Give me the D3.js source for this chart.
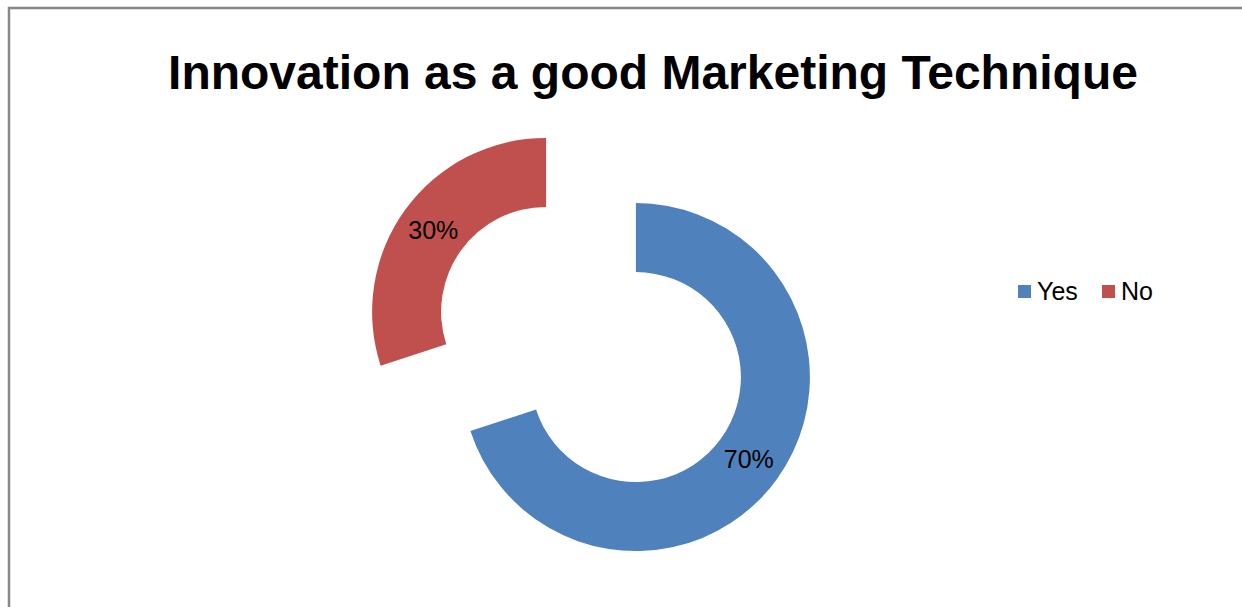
<!DOCTYPE html>
<html>
<head>
<meta charset="utf-8">
<script src="https://cdn.jsdelivr.net/npm/d3@7"></script>
<style>
  html, body { margin: 0; padding: 0; background: #fff; }
  svg { display: block; }
  text { font-family: "Liberation Sans", Arial, sans-serif; }
</style>
</head>
<body>
<svg id="chart" width="1242" height="607"></svg>
<script>
// Survey answers
const categories = ["Yes", "No"];
const values = [70, 30];
const labels = ["70%", "30%"];
const colors = ["#4F81BD", "#C0504D"];
const title = "Innovation as a good Marketing Technique";

const svg = d3.select("#chart");

// chart area frame (continues past the right and bottom edges)
svg.append("rect")
  .attr("x", 9).attr("y", 8)
  .attr("width", 1300).attr("height", 700)
  .attr("fill", "#fff")
  .attr("stroke", "#878787")
  .attr("stroke-width", 2.5);

svg.append("text")
  .attr("x", 653).attr("y", 89)
  .attr("text-anchor", "middle")
  .attr("font-size", 48)
  .attr("font-weight", "bold")
  .attr("fill", "#000")
  .text(title);

// exploded doughnut
const cx = 591, cy = 344.5;
const outerR = 174, innerR = 105, explode = 55.5;

const pie = d3.pie().sort(null).value(d => d.value);
const arcs = pie(categories.map((c, i) => ({ name: c, value: values[i], label: labels[i], color: colors[i] })));
const arc = d3.arc().innerRadius(innerR).outerRadius(outerR);

const g = svg.append("g").attr("transform", `translate(${cx},${cy})`);

const slice = g.selectAll("g.slice").data(arcs).enter().append("g")
  .attr("class", "slice")
  .attr("transform", d => {
    const mid = (d.startAngle + d.endAngle) / 2;
    return `translate(${explode * Math.sin(mid)},${-explode * Math.cos(mid)})`;
  });

slice.append("path")
  .attr("d", arc)
  .attr("fill", d => d.data.color);

slice.append("text")
  .attr("transform", d => `translate(${arc.centroid(d)})`)
  .attr("text-anchor", "middle")
  .attr("dy", "0.36em")
  .attr("font-size", 25)
  .attr("fill", "#000")
  .text(d => d.data.label);

// legend
const legend = svg.append("g").attr("transform", "translate(1018,285)");
const legendX = [0, 84];
const item = legend.selectAll("g").data(categories).enter().append("g")
  .attr("transform", (d, i) => `translate(${legendX[i]},0)`);
item.append("rect")
  .attr("width", 13).attr("height", 13)
  .attr("fill", (d, i) => colors[i]);
item.append("text")
  .attr("x", 19).attr("y", 14.5)
  .attr("font-size", 25)
  .attr("fill", "#000")
  .text(d => d);
</script>
</body>
</html>
